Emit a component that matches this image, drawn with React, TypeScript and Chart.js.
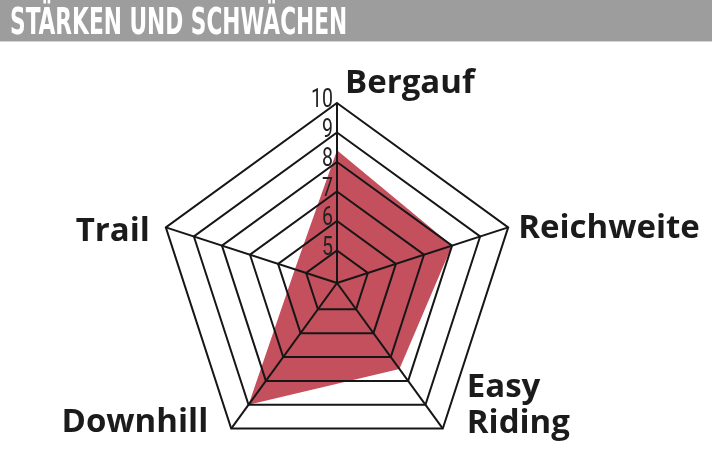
import { useEffect, useRef } from "react";
import { Chart, registerables } from "chart.js";

Chart.register(...registerables);

const chartTitle = "STÄRKEN UND SCHWÄCHEN";
const categories = ["Bergauf", "Reichweite", ["Easy", "Riding"], "Downhill", "Trail"];
const scores = [8.4, 8, 7.5, 9, 5.4];
const tickValues = [5, 6, 7, 8, 9, 10];
const scaleMin = 3.9;
const scaleMax = 10;

// where each axis label sits relative to its outer vertex
const labelPlacement = [
  { align: "left", dx: 8, dy: -10 },
  { align: "left", dx: 10, dy: 11 },
  { align: "left", dx: 24, dy: 4 },
  { align: "right", dx: -23, dy: 3 },
  { align: "right", dx: -16, dy: 14 },
];

const radarText = {
  id: "radarText",
  afterDraw(chart: any) {
    const scale = chart.scales.r;
    const ctx = chart.ctx;
    ctx.save();
    ctx.fillStyle = "#1b1b1b";
    ctx.textBaseline = "alphabetic";

    ctx.font = "bold 33px 'Open Sans'";
    chart.data.labels.forEach((label: string | string[], i: number) => {
      const p = scale.getPointPosition(i, scale.drawingArea);
      const place = labelPlacement[i];
      const lines = Array.isArray(label) ? label : [label];
      ctx.textAlign = place.align;
      lines.forEach((line, j) => {
        const y = p.y + place.dy - (lines.length - 1 - j) * 36;
        ctx.fillText(line, p.x + place.dx, y);
      });
    });

    // narrow tick numbers left of the top axis
    ctx.font = "25px Roboto, 'DejaVu Sans', sans-serif";
    ctx.fillStyle = "#222";
    ctx.textAlign = "right";
    tickValues.forEach((v) => {
      const y = scale.yCenter - scale.getDistanceFromCenterForValue(v);
      ctx.save();
      ctx.translate(scale.xCenter - 4, y + 4);
      ctx.scale(0.78, 1);
      ctx.fillText(String(v), 0, 0);
      ctx.restore();
    });
    ctx.restore();
  },
};

function RadarChart() {
  const canvasRef = useRef<HTMLCanvasElement>(null);
  const chartRef = useRef<Chart | null>(null);

  useEffect(() => {
    if (!canvasRef.current) return;
    if (chartRef.current) chartRef.current.destroy();

    chartRef.current = new Chart(canvasRef.current, {
      type: "radar",
      data: {
        labels: categories as any,
        datasets: [
          {
            data: scores,
            backgroundColor: "#c3505c",
            borderWidth: 0,
            pointRadius: 0,
            fill: true,
          },
        ],
      },
      options: {
        responsive: false,
        animation: false,
        layout: { padding: { left: 157, right: 195, top: 103, bottom: 11 } },
        plugins: { legend: { display: false }, tooltip: { enabled: false } },
        scales: {
          r: {
            min: scaleMin,
            max: scaleMax,
            afterBuildTicks: (scale: any) => {
              scale.ticks = [scaleMin, ...tickValues].map((value) => ({ value }));
            },
            ticks: { display: false },
            pointLabels: { display: false },
            grid: { color: "#161616", lineWidth: 2, z: 1 },
            angleLines: { color: "#161616", lineWidth: 2 },
          },
        },
      },
      plugins: [radarText],
    } as any);

    return () => {
      if (chartRef.current) {
        chartRef.current.destroy();
        chartRef.current = null;
      }
    };
  }, []);

  return <canvas ref={canvasRef} width={712} height={474} style={{ position: "absolute", left: 0, top: 0 }} />;
}

export default function App() {
  useEffect(() => {
    document.body.style.margin = "0";
  }, []);

  return (
    <div style={{ position: "relative", width: 712, height: 474, background: "#fff", overflow: "hidden" }}>
      <RadarChart />
      <div
        style={{
          position: "absolute",
          left: 0,
          top: 0,
          width: 712,
          height: 41,
          background: "#9d9d9d",
          borderBottom: "1px solid #d4d4d4",
          zIndex: 1,
        }}
      >
        <span
          style={{
            position: "absolute",
            left: 10,
            top: 3,
            display: "inline-block",
            whiteSpace: "nowrap",
            color: "#fff",
            fontFamily: "'DejaVu Sans Condensed', 'DejaVu Sans', sans-serif",
            fontWeight: "bold",
            fontSize: 37.7,
            lineHeight: 1,
            transform: "scaleX(0.64)",
            transformOrigin: "left center",
          }}
        >
          {chartTitle}
        </span>
      </div>
    </div>
  );
}
